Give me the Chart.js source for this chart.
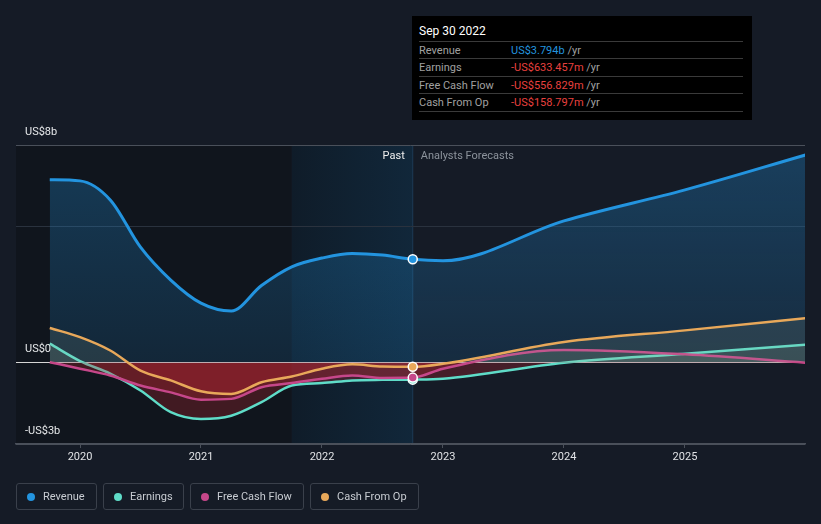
<!DOCTYPE html>
<html>
<head>
<meta charset="utf-8">
<script src="https://cdn.jsdelivr.net/npm/chart.js@4.4.1/dist/chart.umd.min.js"></script>
<style>
  html, body { margin: 0; padding: 0; background: #151b26; }
  body { width: 821px; height: 524px; position: relative; overflow: hidden; font-family: Roboto, "Noto Sans", sans-serif; }
  #chartWrap { position: absolute; left: 0; top: 0; width: 821px; height: 524px; }
  .tip { position: absolute; left: 412px; top: 16px; width: 340px; height: 104px; background: #000; }
  .tip .ttl { position: absolute; left: 7px; top: 8px; color: #fff; font-size: 12px; }
  .tip .row { position: absolute; left: 7px; width: 324px; height: 17px; border-top: 1px solid #3a3a3a; font-size: 11px; line-height: 17px; color: #a0a0a0; }
  .tip .row span.v { position: absolute; left: 92px; }
  .tip .row.last { border-bottom: 1px solid #3a3a3a; }
  .blue { color: #2394df; }
  .red { color: #e8403f; }
  .legend { position: absolute; top: 483px; height: 27px; border: 1px solid #3a404b; border-radius: 3px; box-sizing: border-box; color: #c8ccd2; font-size: 11px; line-height: 25px; }
  .legend i { position: absolute; left: 10px; top: 9px; width: 8px; height: 8px; border-radius: 50%; }
  .legend span { position: absolute; left: 26px; }
</style>
</head>
<body>
<div id="chartWrap"><canvas id="mainChart" width="821" height="524"></canvas></div>

<div class="tip">
  <div class="ttl">Sep 30 2022</div>
  <div class="row" style="top:25px">Revenue<span class="v"><span class="blue">US$3.794b</span> /yr</span></div>
  <div class="row" style="top:42px">Earnings<span class="v"><span class="red">-US$633.457m</span> /yr</span></div>
  <div class="row" style="top:60px">Free Cash Flow<span class="v"><span class="red">-US$556.829m</span> /yr</span></div>
  <div class="row last" style="top:77px">Cash From Op<span class="v"><span class="red">-US$158.797m</span> /yr</span></div>
</div>

<div class="legend" style="left:16px;width:81px"><i style="background:#2394df"></i><span>Revenue</span></div>
<div class="legend" style="left:103px;width:81px"><i style="background:#5fdcc8"></i><span>Earnings</span></div>
<div class="legend" style="left:190px;width:114px"><i style="background:#c6478a"></i><span>Free Cash Flow</span></div>
<div class="legend" style="left:310px;width:109px"><i style="background:#e8a85a"></i><span>Cash From Op</span></div>

<script>
// data (US$ billions), quarterly history then annual analyst forecasts
const years = [2019.75, 2020.0, 2020.25, 2020.5, 2020.75, 2021.0, 2021.25, 2021.5, 2021.75, 2022.0, 2022.25, 2022.5, 2022.75, 2023.0, 2024.0, 2025.0, 2026.0];
const revenue = [6.72, 6.68, 5.98, 4.24, 3.03, 2.18, 1.89, 2.83, 3.52, 3.84, 4.01, 3.95, 3.794, 3.74, 5.21, 6.35, 7.64];
const earnings = [0.69, 0.05, -0.41, -1.03, -1.83, -2.08, -1.96, -1.46, -0.85, -0.76, -0.66, -0.64, -0.633, -0.60, -0.01, 0.32, 0.65];
const freeCashFlow = [0.01, -0.23, -0.48, -0.85, -1.10, -1.37, -1.34, -0.91, -0.76, -0.60, -0.48, -0.57, -0.557, -0.23, 0.46, 0.30, -0.01];
const cashFromOp = [1.27, 0.93, 0.44, -0.30, -0.66, -1.06, -1.16, -0.73, -0.52, -0.23, -0.07, -0.15, -0.159, -0.05, 0.75, 1.18, 1.63];

const xTicks = [2020, 2021, 2022, 2023, 2024, 2025];
const yLabels = [[8, "US$8b"], [0, "US$0"], [-3, "-US$3b"]];
const yGrid = [-3, 0, 5, 8];
const pastEnd = 2022.75;
const highlightStart = 2021.75;

const pts = arr => arr.map((v, i) => ({ x: years[i], y: v }));
const dotAtPast = ctx => (ctx.raw && ctx.raw.x === pastEnd ? 4.5 : 0);

function lowerSeries(label, data, color) {
  return {
    label,
    data: pts(data),
    borderColor: color,
    backgroundColor: color,
    borderWidth: 2.5,
    cubicInterpolationMode: "monotone",
    pointRadius: dotAtPast,
    pointBorderColor: "#ffffff",
    pointBorderWidth: 1.5,
    pointHoverRadius: 0,
    fill: { target: "origin", above: "rgba(170,190,165,0.13)", below: "rgba(195,40,52,0.28)" }
  };
}

// background bands (under the grid), side labels on top
const decorations = {
  id: "decorations",
  beforeDraw(chart) {
    const { ctx, chartArea: a, scales: { x } } = chart;
    const xh = x.getPixelForValue(highlightStart);
    const xp = x.getPixelForValue(pastEnd);
    ctx.save();
    ctx.fillStyle = "#10151d";
    ctx.fillRect(a.left, a.top, xh - a.left, a.bottom - a.top);
    const g = ctx.createLinearGradient(xh, 0, xp, 0);
    g.addColorStop(0, "#0f1c29");
    g.addColorStop(1, "#11273a");
    ctx.fillStyle = g;
    ctx.fillRect(xh, a.top, xp - xh, a.bottom - a.top);
    ctx.fillStyle = "#1e3b55";
    ctx.fillRect(xp - 0.5, a.top, 1, a.bottom - a.top);
    ctx.restore();
  },
  afterDraw(chart) {
    const { ctx, chartArea: a, scales: { x, y } } = chart;
    ctx.save();
    ctx.font = "11px Roboto, 'Noto Sans', sans-serif";
    ctx.textBaseline = "middle";
    ctx.fillStyle = "#e6e8ea";
    yLabels.forEach(([v, t]) => {
      ctx.textAlign = "left";
      ctx.fillText(t, 25, y.getPixelForValue(v) - 13);
    });
    const xp = x.getPixelForValue(pastEnd);
    ctx.textAlign = "right";
    ctx.fillStyle = "#eeeeee";
    ctx.fillText("Past", xp - 8, a.top + 11);
    ctx.textAlign = "left";
    ctx.fillStyle = "#8c939c";
    ctx.fillText("Analysts Forecasts", xp + 8, a.top + 11);
    ctx.restore();
  }
};

const canvas = document.getElementById("mainChart");
const c2d = canvas.getContext("2d");
const revFill = c2d.createLinearGradient(0, 145, 0, 362);
revFill.addColorStop(0, "rgba(35,148,223,0.30)");
revFill.addColorStop(1, "rgba(35,148,223,0.14)");

new Chart(c2d, {
  type: "line",
  data: {
    datasets: [
      lowerSeries("Cash From Op", cashFromOp, "#e8a85a"),
      lowerSeries("Free Cash Flow", freeCashFlow, "#c6478a"),
      lowerSeries("Earnings", earnings, "#5fdcc8"),
      {
        label: "Revenue",
        data: pts(revenue),
        borderColor: "#2394df",
        backgroundColor: "#2394df",
        borderWidth: 3,
        cubicInterpolationMode: "monotone",
        pointRadius: dotAtPast,
        pointBorderColor: "#ffffff",
        pointBorderWidth: 1.5,
        pointHoverRadius: 0,
        fill: { target: "origin", above: revFill, below: revFill }
      }
    ]
  },
  options: {
    responsive: false,
    animation: false,
    events: [],
    layout: { padding: { left: 16, right: 16, top: 145, bottom: 50 } },
    plugins: { legend: { display: false }, tooltip: { enabled: false } },
    scales: {
      x: {
        type: "linear",
        min: 2019.471,
        max: 2025.992,
        afterBuildTicks: s => { s.ticks = xTicks.map(v => ({ value: v })); },
        afterFit: s => { s.height = 30; },
        ticks: {
          color: "#e0e2e5",
          font: { family: "Roboto, 'Noto Sans', sans-serif", size: 11 },
          padding: 3,
          maxRotation: 0,
          callback: v => String(v)
        },
        grid: { drawOnChartArea: false, color: "#4a505a", tickLength: 4 },
        border: { color: "#4a505a", width: 1.5 }
      },
      y: {
        min: -3,
        max: 8,
        afterBuildTicks: s => { s.ticks = yGrid.map(v => ({ value: v })); },
        afterFit: s => { s.width = 0; },
        ticks: { display: false },
        grid: {
          drawTicks: false,
          lineWidth: 1,
          color: c => c.tick.value === 0 ? "#d6d6d6" : (c.tick.value === 5 ? "#2a323e" : "#4a505a")
        },
        border: { display: false }
      }
    }
  },
  plugins: [decorations]
});
</script>
</body>
</html>
